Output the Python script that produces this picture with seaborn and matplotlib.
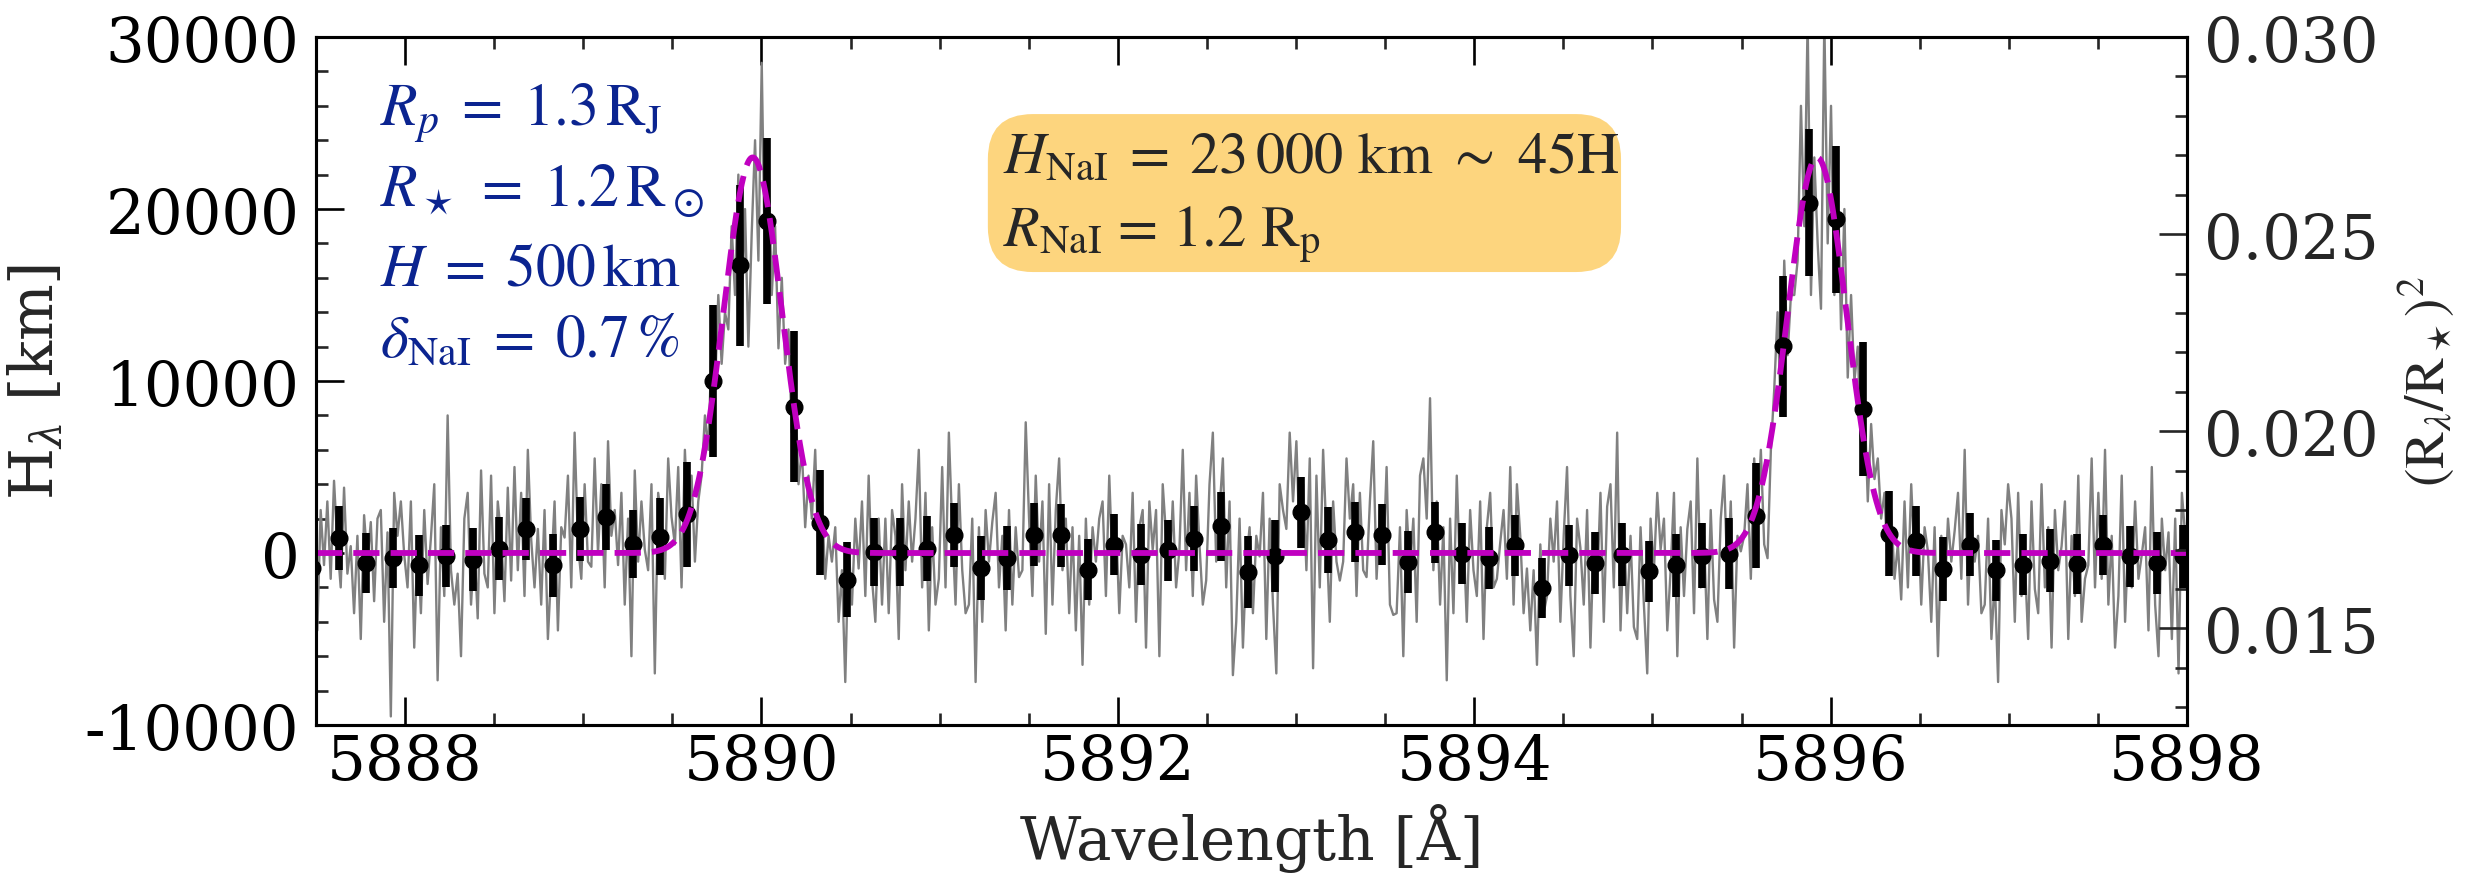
import numpy as np
import matplotlib
matplotlib.use("Agg")
import matplotlib.pyplot as plt
from matplotlib.patches import FancyBboxPatch
from matplotlib.ticker import MultipleLocator, FormatStrFormatter
import seaborn as sns

# ---------------------------------------------------------------- data
# binned transmission spectrum: wavelength [A], height [km], 1-sigma [km]
bin_wave = [
    5887.48, 5887.63, 5887.78, 5887.93, 5888.08, 5888.23, 5888.38, 5888.53, 5888.68, 5888.83,
    5888.98, 5889.13, 5889.28, 5889.43, 5889.58, 5889.73, 5889.88, 5890.03, 5890.18, 5890.33,
    5890.48, 5890.63, 5890.78, 5890.93, 5891.08, 5891.23, 5891.38, 5891.53, 5891.68, 5891.83,
    5891.98, 5892.13, 5892.28, 5892.43, 5892.58, 5892.73, 5892.88, 5893.03, 5893.18, 5893.33,
    5893.48, 5893.63, 5893.78, 5893.93, 5894.08, 5894.23, 5894.38, 5894.53, 5894.68, 5894.83,
    5894.98, 5895.13, 5895.28, 5895.43, 5895.58, 5895.73, 5895.88, 5896.03, 5896.18, 5896.33,
    5896.48, 5896.63, 5896.78, 5896.93, 5897.08, 5897.23, 5897.38, 5897.53, 5897.68, 5897.83,
    5897.98,
]
bin_height = [
    -900, 870, -580, -290, -720, -190, -390, 250, 1400, -720,
    1400, 2070, 540, 950, 2250, 10000, 16740, 19300, 8500, 1750,
    -1540, 60, 60, 250, 1030, -870, -290, 1070, 1030, -970,
    480, -100, 150, 830, 1550, -1100, -190, 2360, 780, 1200,
    1070, -520, 1200, -40, -290, 450, -2030, -140, -580, -100,
    -1070, -720, -160, -40, 2170, 12030, 20370, 19400, 8350, 1120,
    680, -910, 480, -1010, -680, -450, -640, 480, -190, -580,
    -190,
]
bin_err = [
    1800, 1840, 1740, 1740, 1780, 1800, 1840, 1820, 1780, 1840,
    1840, 1920, 1980, 2230, 3040, 4400, 4680, 4800, 4400, 3050,
    2200, 2000, 1960, 1880, 1860, 1840, 1880, 1820, 1840, 1780,
    1780, 1780, 1760, 1880, 2000, 2070, 2090, 2070, 1920, 1740,
    1780, 1780, 1760, 1780, 1800, 1780, 1740, 1760, 1780, 1820,
    1760, 1820, 1880, 2070, 3050, 4100, 4280, 4280, 3900, 2470,
    2030, 1860, 1840, 1780, 1780, 1840, 1760, 1740, 1780, 1780,
    1840,
]

# unbinned spectrum, eight samples per bin, heights in units of 100 km
raw_height_100km = [
    -40, 15, -30, 20, -10, -45, 25, -7,
    30, -15, 42, 5, -20, 38, -12, 4,
    -35, 10, -50, 22, -5, 18, -28, 20,
    25, -40, 12, -95, 35, 10, 30, -1,
    -20, 30, -55, 8, -35, 25, -18, 9,
    40, -74, 15, -25, 80, -10, -30, -12,
    -60, 20, 35, -30, 5, -38, 48, -12,
    -20, 45, -35, 30, 10, -28, 38, -16,
    50, -10, 35, -25, 60, 8, -20, 14,
    -30, 25, -50, -10, 30, -45, 15, 9,
    45, -20, 70, 5, -15, 40, -5, -8,
    55, 0, 40, -20, 65, 10, 25, -7,
    35, -30, 20, -60, 48, -5, 30, 2,
    -10, 40, -70, 35, 20, -15, 55, 21,
    5, 50, -20, 60, 15, 45, -5, 30,
    45, 80, 60, 120, 95, 150, 110, 140,
    130, 190, 150, 220, 140, 200, 120, 186,
    240, 170, 285, 160, 230, 150, 190, 119,
    160, 110, 130, 70, 95, 40, 60, 15,
    45, 20, 60, -5, 30, -15, 10, -5,
    15, -40, -10, -75, 5, -30, 20, -9,
    30, -25, 45, -15, -40, 20, -30, 20,
    -35, 25, 10, -50, 40, -10, 30, -5,
    20, 60, -20, 35, -45, 15, -30, -15,
    50, -20, 70, 15, -30, 40, -10, -35,
    -30, 20, -75, 15, -40, 25, -5, 18,
    35, -20, 10, -45, 25, -30, 15, -14,
    -10, 76, 20, -25, 45, -5, 30, -47,
    40, -30, 25, 55, -10, 20, -35, 15,
    -45, 10, -65, 20, -30, 15, -5, 20,
    30, -25, 45, -10, 20, -35, 10, 5,
    -20, 35, -40, 15, 25, -55, 30, 2,
    25, -60, 40, 10, -15, 30, -20, 2,
    60, -10, 35, -25, 45, 5, -30, -16,
    40, 70, -5, 25, 55, -20, 30, -71,
    -40, 20, -55, -5, 15, -35, 10, -2,
    35, -50, 20, -30, -70, 40, 25, 14,
    70, 30, 65, 5, 40, -10, 55, -67,
    45, -20, 60, 10, -40, 30, -5, -16,
    -5, 55, 20, 40, -25, 35, -10, -14,
    30, 65, -15, 25, -5, 50, -30, -36,
    -35, 15, -60, 25, -10, 20, -40, 45,
    55, 20, 90, -10, 30, -30, 15, -74,
    20, -35, 45, -15, 10, -40, 25, -10,
    -25, 30, -50, 15, 35, -20, -15, 6,
    25, -15, 50, -30, 40, 10, -35, -9,
    -45, -10, -65, 5, -35, -25, 20, -5,
    30, -40, 10, 50, -25, -60, 20, 3,
    -30, 25, -55, 10, -20, 35, -40, 27,
    40, -20, 70, -45, 15, -35, 10, -43,
    -50, 15, -30, -70, 20, -10, 35, 2,
    20, -45, -10, 35, -60, 15, -25, 14,
    30, -35, 55, -20, 10, -50, 25, -27,
    -40, 20, 45, -15, 30, -55, 10, 1,
    10, 40, -15, 55, 20, 60, 5, -3,
    60, 95, 140, 80, 170, 115, 150, 150,
    170, 260, 190, 310, 150, 230, 180, 142,
    310, 180, 260, 150, 220, 130, 200, 102,
    150, 100, 120, 60, 90, 30, 75, 43,
    55, 20, 35, -10, 25, -15, 5, -27,
    30, -20, 40, -5, 25, -30, 15, 1,
    -40, 15, -60, 10, -25, 20, -5, 13,
    35, -15, 60, -30, 20, -5, 10, -35,
    -30, 20, -50, -15, -75, 25, 5, 40,
    20, -40, 35, -25, -5, -50, 30, -21,
    -35, 40, -20, 15, -55, 25, -10, 4,
    30, -50, 10, -25, 45, -40, -15, -7,
    55, -20, 35, -15, 60, -30, 10, -55,
    -25, 45, -40, 10, -20, 30, -15, -1,
    15, -45, 50, -30, -60, 20, -10, 12,
    -50, 20, -70, 35, 10, -30, 45, 24,
]
raw_wave_range = (5887.414, 5898.046)

# Na I doublet model: line centres [A], peak height [km], gaussian width [A]
nai_centres = [5889.951, 5895.924]
nai_peak_km = 23000
nai_sigma = 0.165

# axis ranges and ticks
wave_lim = (5887.5, 5898.0)
height_lim = (-10000, 30000)
depth_lim = (0.01255, 0.030)
wave_ticks = [5888, 5890, 5892, 5894, 5896, 5898]
height_ticks = [-10000, 0, 10000, 20000, 30000]
depth_ticks = [0.015, 0.020, 0.025, 0.030]

# ---------------------------------------------------------------- style
sns.set_theme(style="ticks")
plt.rcParams["font.family"] = ["DejaVu Serif"]
plt.rcParams["axes.unicode_minus"] = False
plt.rcParams["mathtext.fontset"] = "dejavuserif"

raw_wave = np.linspace(raw_wave_range[0], raw_wave_range[1], len(raw_height_100km))
raw_height = np.asarray(raw_height_100km, dtype=float) * 100.0

model_wave = np.linspace(wave_lim[0], wave_lim[1], 2000)
model_height = np.zeros_like(model_wave)
for c in nai_centres:
    model_height += nai_peak_km * np.exp(-0.5 * ((model_wave - c) / nai_sigma) ** 2)

fig = plt.figure(figsize=(24.76, 8.78), dpi=100)
ax = fig.add_axes([0.1276, 0.1731, 0.7557, 0.7836])

# unbinned spectrum
sns.lineplot(x=raw_wave, y=raw_height, ax=ax, color="0.5", lw=1.7,
             estimator=None, sort=False, legend=False, zorder=1)

# binned points
ax.errorbar(bin_wave, bin_height, yerr=bin_err, fmt="o", color="black",
            ms=12, elinewidth=5.5, capsize=0, zorder=3)

# model
sns.lineplot(x=model_wave, y=model_height, ax=ax, color="#c000c0", lw=4.2,
             estimator=None, legend=False, zorder=4)
ax.lines[-1].set_dashes([4.5, 1.9])

ax.set_xlim(*wave_lim)
ax.set_ylim(*height_lim)
ax.set_xticks(wave_ticks)
ax.set_yticks(height_ticks)
ax.xaxis.set_minor_locator(MultipleLocator(0.5))
ax.yaxis.set_minor_locator(MultipleLocator(2000))
ax.set_yticklabels([str(v) for v in height_ticks])

tick_font = 44
ax.tick_params(axis="both", which="major", direction="in", length=20, width=1.9,
               labelsize=tick_font, colors="black")
ax.tick_params(axis="both", which="minor", direction="in", length=8.5, width=1.9)
ax.tick_params(axis="x", which="both", top=True, bottom=True, pad=5)
ax.tick_params(axis="y", which="both", left=True, right=False, pad=12)
for s in ax.spines.values():
    s.set_linewidth(2.2)
    s.set_color("black")
    s.set_visible(True)

ax.set_xlabel("Wavelength [Å]", fontsize=43, labelpad=8)
ax.set_ylabel(r"H$_\lambda$ [km]", fontsize=43, labelpad=14)

# second scale: transit depth
ax2 = ax.twinx()
ax2.set_ylim(*depth_lim)
ax2.set_yticks(depth_ticks)
ax2.yaxis.set_minor_locator(MultipleLocator(0.001))
ax2.yaxis.set_major_formatter(FormatStrFormatter("%.3f"))
ax2.tick_params(axis="y", which="major", direction="in", length=20, width=1.9,
                labelsize=tick_font, right=True, left=False, pad=12)
ax2.tick_params(axis="y", which="minor", direction="in", length=8.5, width=1.9,
                right=True, left=False)
for s in ax2.spines.values():
    s.set_linewidth(2.2)
    s.set_color("black")
ax2.set_ylabel(r"$(\mathrm{R}_\lambda/\mathrm{R}_\star)^2$", fontsize=40,
               labelpad=12, math_fontfamily="stix")

# system parameters
param_color = "#0b2490"
param_lines = [
    (0.872, r"$R_p\;=\;1.3\,\mathrm{R_J}$"),
    (0.756, r"$R_\star\;=\;1.2\,\mathrm{R_\odot}$"),
    (0.641, r"$H\;=\;500\,\mathrm{km}$"),
    (0.537, r"$\delta_\mathrm{NaI}\;=\;0.7\,\%$"),
]
for y, s in param_lines:
    ax.text(0.034, y, s, transform=ax.transAxes, fontsize=43, color=param_color,
            ha="left", va="baseline", math_fontfamily="stix", zorder=6)

# derived Na I extent
fig.canvas.draw()
bb = ax.get_window_extent()
aspect = bb.width / bb.height
box = FancyBboxPatch((0.3591, 0.6584), 0.3384, 0.2296,
                     boxstyle="round,pad=0,rounding_size=0.024",
                     mutation_aspect=aspect, transform=ax.transAxes,
                     facecolor="#fdd57e", edgecolor="none", zorder=5)
ax.add_patch(box)
ax.text(0.3672, 0.803, r"$H_\mathrm{NaI}\;=\;23\,000$ km $\sim$ 45H",
        transform=ax.transAxes, fontsize=42, family="STIXGeneral",
        math_fontfamily="stix", ha="left", va="baseline", zorder=6)
ax.text(0.3672, 0.697, r"$R_\mathrm{NaI}$ = 1.2 R$_\mathrm{p}$",
        transform=ax.transAxes, fontsize=42, family="STIXGeneral",
        math_fontfamily="stix", ha="left", va="baseline", zorder=6)

fig.savefig("out.png", dpi=100, facecolor="white")
